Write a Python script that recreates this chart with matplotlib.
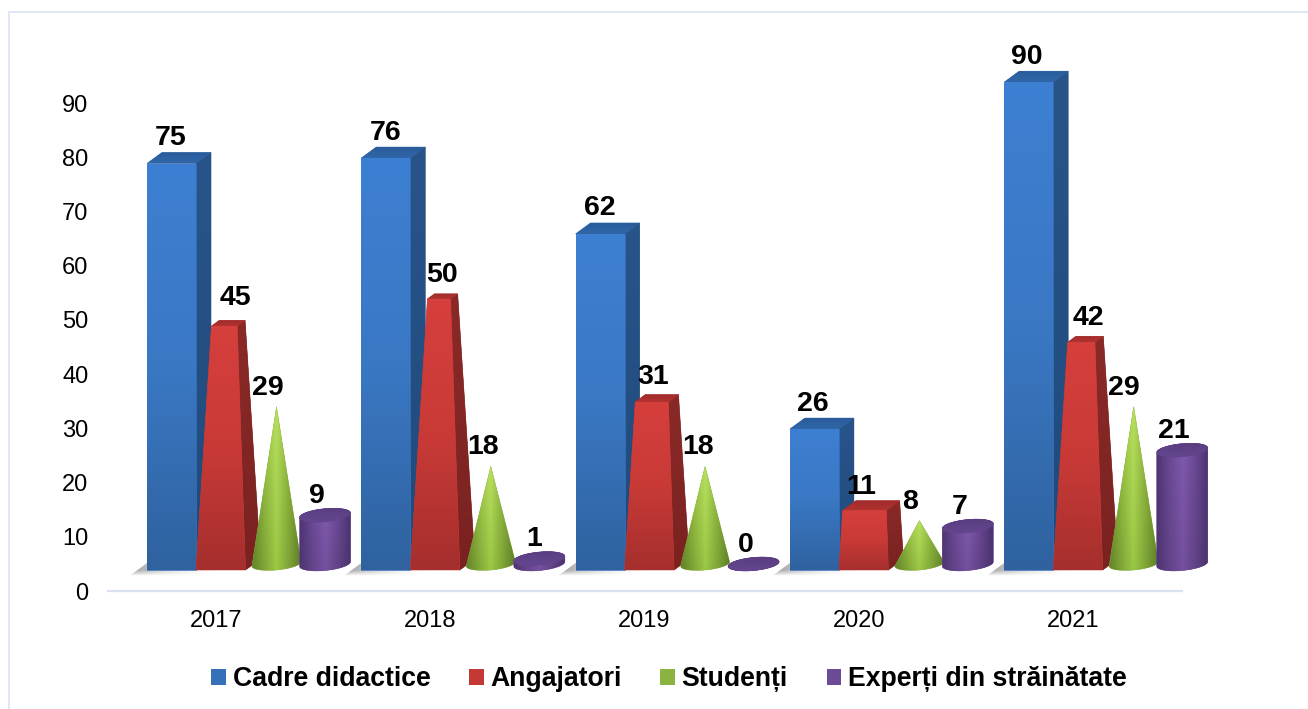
import matplotlib
matplotlib.use("Agg")
import matplotlib.pyplot as plt
from matplotlib.patches import Polygon, Patch, Rectangle
import numpy as np

plt.rcParams['font.family'] = ['Liberation Sans', 'DejaVu Sans']

years = ["2017", "2018", "2019", "2020", "2021"]
cadre = [75, 76, 62, 26, 90]
angajatori = [45, 50, 31, 11, 42]
studenti = [29, 18, 18, 8, 29]
experti = [9, 1, 0, 7, 21]
y_ticks = [0, 10, 20, 30, 40, 50, 60, 70, 80, 90]
series_names = ["Cadre didactice", "Angajatori", "Studenți", "Experți din străinătate"]

# label shifts in pixels, the labels sit by hand in the original
shift_blue = [0, 0, 0, -1, -1]
shift_red = [15, 8, 5, -2, 11]
raise_red = [3, -1, -1, -2, -1]
shift_green = [-8, -7, -7, -9, -9]
shift_purple = [-8, -5, -8, -8, -8]

W, H = 1308, 709
PX_X = 214.3   # pixels per category
PX_Y = 5.42    # pixels per unit
X0 = 216       # pixel of first category
Y0 = 591       # pixel of value 0
AX_TOP = 20

fig = plt.figure(figsize=(W / 100, H / 100), dpi=100, facecolor="white")
ax = fig.add_axes([108 / W, 1 - Y0 / H, (1182 - 108) / W, (Y0 - AX_TOP) / H])
xlim = ((108 - X0) / PX_X, (1182 - X0) / PX_X)
ylim = (0, (Y0 - AX_TOP) / PX_Y)


def dx(p):
    return p / PX_X


def dy(p):
    return p / PX_Y


def mix(profile, stops):
    # profile values 0..1 -> interpolated colours
    stops = np.array([matplotlib.colors.to_rgb(c) for c in stops])
    pos = np.linspace(0, 1, len(stops))
    return np.stack([np.interp(profile, pos, stops[:, k]) for k in range(3)], axis=-1)


def fill(pts, img, z):
    pts = np.array(pts)
    if img.shape[-1] == 3:
        under = tuple(img.reshape(-1, 3).mean(axis=0))
    else:
        under = "none"
    patch = Polygon(pts, closed=True, facecolor=under, edgecolor=under, linewidth=0.4, zorder=z, clip_on=False)
    ax.add_patch(patch)
    im = ax.imshow(img, extent=(pts[:, 0].min(), pts[:, 0].max(), pts[:, 1].min(), pts[:, 1].max()),
                   aspect="auto", origin="upper", interpolation="bilinear", zorder=z)
    im.set_clip_path(patch)
    im.set_clip_box(fig.bbox)


def vgrad(stops):
    return mix(np.linspace(0, 1, 64), stops)[:, None, :]


def hgrad(top, bottom, n=64):
    # top and bottom are lists of colours across the width
    a = mix(np.linspace(0, 1, n), top)
    b = mix(np.linspace(0, 1, n), bottom)
    t = np.linspace(0, 1, n)[:, None, None]
    return a[None, :, :] * (1 - t) + b[None, :, :] * t


def ellipse(cx, cy, half, start, stop, b=6.5, tilt=0.09):
    # tilted ellipse arc, half width and height in pixels
    t = np.linspace(start, stop, 40)
    xs = cx + dx(half) * np.cos(t)
    ys = cy + dy(b) * np.sin(t) + dy(tilt * half) * np.cos(t)
    return list(zip(xs, ys))


def draw_shadow(x):
    left = x - dx(69)
    pts = [(left - dx(17), dy(15.5)), (left, dy(28)), (left + dx(70), dy(21)), (left + dx(70), dy(15.5))]
    h = np.linspace(1, 0, 64) ** 1.6
    v = np.concatenate([np.ones(34), np.linspace(1, 0, 30)])
    img = np.ones((64, 64, 4))
    img[..., :3] = 0.58
    img[..., 3] = np.outer(v, h) * 0.9
    fill(pts, img, 1)


def draw_box(x, v, z):
    left = x - dx(69)
    w = dx(49)
    base = dy(21)
    top = v + dy(21)
    ddx, ddy = dx(15), dy(11)
    fill([(left + w, base), (left + w + ddx, base + ddy), (left + w + ddx, top + ddy), (left + w, top)],
         vgrad(["#29548a", "#1f4a7c"]), z)
    fill([(left, top), (left + ddx, top + ddy), (left + w + ddx, top + ddy), (left + w, top)],
         vgrad(["#2a5b9b", "#3067a8"]), z)
    fill([(left, base), (left + w, base), (left + w, top), (left, top)],
         vgrad(["#3d7fd2", "#3a78c4", "#2f629f"]), z)


def draw_frustum(x, v, z):
    left = x - dx(20)
    w = dx(49.5)
    base = dy(21)
    ddx, ddy = dx(15), dy(11)
    apex_h = dy(505)
    t = v / (apex_h + dy(5.5)) * 1.0
    ax_c = left + (w + ddx) / 2
    ay_c = base + ddy / 2 + apex_h

    def lift(px, py):
        return (px + t * (ax_c - px), py + t * (ay_c - py))

    fl, fr = (left, base), (left + w, base)
    br, bl = (left + w + ddx, base + ddy), (left + ddx, base + ddy)
    tfl, tfr, tbr, tbl = lift(*fl), lift(*fr), lift(*br), lift(*bl)
    fill([fr, br, tbr, tfr], vgrad(["#8a2a28", "#7a2220"]), z)
    fill([tfl, tbl, tbr, tfr], vgrad(["#a02c2a", "#b03230"]), z)
    fill([fl, fr, tfr, tfl], vgrad(["#d53f3c", "#c93a37", "#a52f2d"]), z)


def draw_cone(x, v, z):
    c = x + dx(60.5)
    base = dy(27)
    apex = (c, v + dy(27))
    pts = ellipse(c, base, 24.5, np.pi, 2 * np.pi, b=6) + [apex]
    fill(pts, hgrad(["#6f9232", "#9cc645", "#b9e060", "#8fb53e", "#6f9232"],
                    ["#638429", "#7fa537", "#9ac844", "#7fa537", "#5e7d28"]), z)


def draw_cylinder(x, v, z):
    c = x + dx(109)
    base = dy(27)
    top = v + dy(27)
    body = ellipse(c, base, 25.5, np.pi, 2 * np.pi) + ellipse(c, top, 25.5, 0, np.pi)
    fill(body, hgrad(["#4e3572", "#6c4a98", "#8059ad", "#6a4894", "#4a3270"],
                     ["#4e3572", "#634489", "#74509e", "#604284", "#4a3270"]), z)
    cap = ellipse(c, top, 25.5, 0, 2 * np.pi)
    fill(cap, vgrad(["#5a3e80", "#644690"]), z)


for i in range(len(years)):
    z = 2 + i * 10
    draw_shadow(i)
    draw_box(i, cadre[i], z)
    draw_frustum(i, angajatori[i], z + 1)
    draw_cone(i, studenti[i], z + 2)
    draw_cylinder(i, experti[i], z + 3)

    lab = dict(ha="center", va="center", fontsize=20.5, fontweight="bold", color="black", zorder=90, clip_on=False)
    ax.text(i - dx(45) + dx(shift_blue[i]), cadre[i] + dy(46.5), str(cadre[i]), **lab)
    ax.text(i + dx(4) + dx(shift_red[i]), angajatori[i] + dy(46.5 + raise_red[i]), str(angajatori[i]), **lab)
    ax.text(i + dx(60) + dx(shift_green[i]), studenti[i] + dy(46), str(studenti[i]), **lab)
    ax.text(i + dx(109) + dx(shift_purple[i]), experti[i] + dy(46.5), str(experti[i]), **lab)

ax.set_xlim(xlim)
ax.set_ylim(ylim)
ax.patch.set_alpha(0)
for s in ["top", "left", "right"]:
    ax.spines[s].set_visible(False)
ax.spines["bottom"].set_color("#d9e2ef")
ax.spines["bottom"].set_linewidth(1.6)
ax.set_xticks(range(len(years)))
ax.set_xticklabels(years)
ax.set_yticks(y_ticks)
ax.tick_params(axis="both", length=0, labelsize=17, labelcolor="black")
ax.tick_params(axis="x", pad=14)
ax.tick_params(axis="y", pad=14)

colors = ["#3570b8", "#c43835", "#8ab33f", "#6b4a96"]
handles = [Patch(facecolor=c, edgecolor="none") for c in colors]
fig.legend(handles, series_names, loc="center", bbox_to_anchor=(669 / W, 1 - 679 / H), ncol=4, frameon=False,
           prop={"size": 19.2, "weight": "bold"}, handlelength=0.55, handleheight=0.55, handletextpad=0.25,
           columnspacing=1.45)

# outer frame
fig.add_artist(Rectangle((8.5 / W, -0.1), (W + 100) / W, 1 - 11.5 / H + 0.1, transform=fig.transFigure,
                         facecolor="none", edgecolor="#dfe7f5", linewidth=1.4))

fig.savefig("out.png", dpi=100)
